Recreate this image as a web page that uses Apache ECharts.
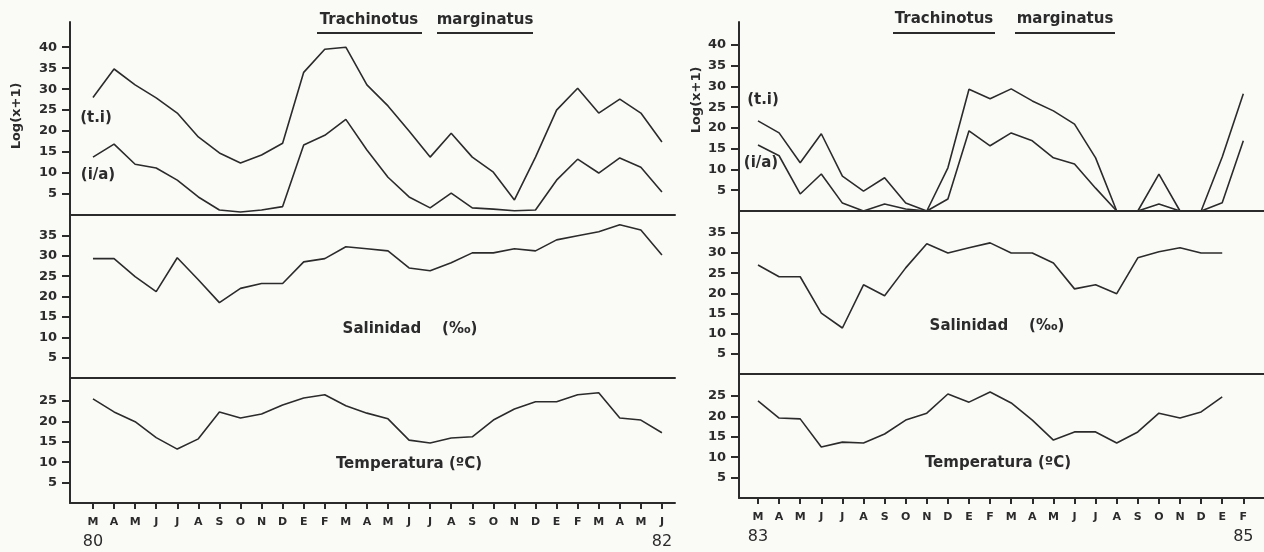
<!DOCTYPE html>
<html>
<head>
<meta charset="utf-8">
<script src="https://cdn.jsdelivr.net/npm/echarts@6/dist/echarts.min.js"></script>
<style>
html,body{margin:0;padding:0;background:#fafaf7;}
#c{width:1264px;height:552px;}
</style>
</head>
<body>
<div id="c"></div>
<script>
// ---------- DATA ----------
const monthsA = ['M','A','M','J','J','A','S','O','N','D','E','F','M','A','M','J','J','A','S','O','N','D','E','F','M','A','M','J']; // Mar 80 - Jun 82
const yearsA = ['80','82'];
const tiA  = [28,34.8,31,27.9,24.3,18.6,14.8,12.4,14.3,17.1,34,39.5,40,31,26,20,13.8,19.5,13.8,10.2,3.6,13.8,25,30.2,24.3,27.6,24.3,17.4];
const iaA  = [13.8,16.9,12.1,11.2,8.3,4.3,1.2,0.7,1.2,2,16.7,19,22.8,15.5,9,4.3,1.7,5.2,1.7,1.4,1,1.2,8.3,13.3,10,13.6,11.4,5.5];
const salA = [29.3,29.3,24.9,21.2,29.5,24.1,18.5,22,23.2,23.2,28.5,29.3,32.2,31.7,31.2,27,26.3,28.3,30.7,30.7,31.7,31.2,33.9,34.9,35.9,37.6,36.3,30.2];
const temA = [25.5,22.3,19.9,16,13.2,15.7,22.3,20.8,21.8,24,25.7,26.5,23.8,22,20.6,15.4,14.7,15.9,16.2,20.3,23,24.8,24.8,26.5,27,20.8,20.3,17.2];

const monthsB = ['M','A','M','J','J','A','S','O','N','D','E','F','M','A','M','J','J','A','S','O','N','D','E','F']; // Mar 83 - Feb 85
const yearsB = ['83','85'];
const tiB  = [21.7,18.8,11.6,18.6,8.4,4.8,8,1.9,0,10.4,29.3,27,29.4,26.5,24.1,20.9,12.8,0,0,8.9,0,0,13,28.2];
const iaB  = [15.9,13.3,4.1,8.9,1.9,0,1.7,0.5,0,2.9,19.3,15.7,18.8,16.9,12.8,11.3,5.5,0,0,1.7,0,0,2,16.9];
const salB = [27,24.1,24.1,15.1,11.4,22.1,19.4,26.3,32.3,30,31.3,32.5,30,30,27.5,21.1,22.1,19.9,28.8,30.3,31.3,30,30,null];
const temB = [23.8,19.6,19.4,12.5,13.7,13.5,15.7,19.1,20.8,25.5,23.5,26,23.3,19.1,14.2,16.2,16.2,13.5,16.2,20.8,19.6,21.1,24.8,null];

const ticksLog = [5,10,15,20,25,30,35,40];
const ticksSal = [5,10,15,20,25,30,35];
const ticksTem = [5,10,15,20,25];

const title1 = 'Trachinotus', title2 = 'marginatus';
const yName = 'Log(x+1)';
const salName = 'Salinidad    (‰)';
const temName = 'Temperatura (ºC)';

// ---------- CHART ----------
const ink = '#2b2b2b';
const FONT = 'DejaVu Sans';
const toPairs = arr => arr.map((v, i) => [i, v]);
const idx = n => Array.from({length: n}, (_, i) => i);

const panels = [
  {left: 70, right: 589, xmin: -1.09, xmax: 27.62, months: monthsA, years: yearsA,
   tops: [22, 215, 378], bots: [215, 378, 503], ymax: [46, 40, 30.6],
   series: [[tiA, iaA], [salA], [temA]]},
  {left: 739, right: 0, xmin: -0.9, xmax: 23.98, months: monthsB, years: yearsB,
   tops: [22, 211, 374], bots: [211, 374, 498], ymax: [45.5, 40.4, 30.4],
   series: [[tiB, iaB], [salB], [temB]]}
];
const yTicks = [ticksLog, ticksSal, ticksTem];

const grid = [], xAxis = [], yAxis = [], series = [];
panels.forEach((p, pi) => {
  for (let r = 0; r < 3; r++) {
    const gi = grid.length;
    grid.push({left: p.left, right: p.right, top: p.tops[r], height: p.bots[r] - p.tops[r],
               containLabel: false, outerBoundsMode: 'none'});
    const isBottom = r === 2;
    const n = p.months.length;
    xAxis.push({
      type: 'value', gridIndex: gi, min: p.xmin, max: p.xmax, position: 'bottom',
      axisLine: {show: true, onZero: false, lineStyle: {color: ink, width: 2}},
      axisTick: {show: isBottom, inside: false, customValues: idx(n), length: 6, lineStyle: {color: ink, width: 2}},
      axisLabel: {
        show: isBottom, customValues: idx(n), margin: 10,
        formatter: v => {
          const m = p.months[v];
          if (v === 0) return '{m|' + m + '}\n{y|' + p.years[0] + '}';
          if (v === n - 1) return '{m|' + m + '}\n{y|' + p.years[1] + '}';
          return '{m|' + m + '}\n{y| }';
        },
        rich: {
          m: {fontFamily: FONT, fontWeight: 'bold', fontSize: 11, color: ink, lineHeight: 19},
          y: {fontFamily: FONT, fontSize: 16, color: ink, lineHeight: 19}
        }
      },
      splitLine: {show: false}
    });
    yAxis.push({
      type: 'value', gridIndex: gi, min: 0, max: p.ymax[r],
      axisLine: {show: true, onZero: false, lineStyle: {color: ink, width: 2}},
      axisTick: {show: true, customValues: yTicks[r], length: 8, lineStyle: {color: ink, width: 2}},
      axisLabel: {show: true, customValues: yTicks[r], margin: 13, fontFamily: FONT, fontWeight: 'bold', fontSize: 13, color: ink},
      splitLine: {show: false}
    });
    p.series[r].forEach(arr => {
      series.push({
        type: 'line', xAxisIndex: gi, yAxisIndex: gi, data: toPairs(arr),
        symbol: 'none', connectNulls: false, silent: true,
        lineStyle: {color: ink, width: 1.6}
      });
    });
  }
});

const txt = (x, y, s, size, extra) => Object.assign({
  type: 'text', x: x, y: y, silent: true,
  style: {text: s, fill: ink, fontFamily: FONT, fontWeight: 'bold', fontSize: size, align: 'center', verticalAlign: 'middle'}
}, extra || {});
const uline = (x1, x2, y) => ({type: 'line', silent: true, shape: {x1: x1, y1: y, x2: x2, y2: y}, style: {stroke: ink, lineWidth: 2}});

const graphic = [
  txt(369, 20, title1, 15), txt(485, 20, title2, 15), uline(317, 422, 33), uline(437, 533, 33),
  txt(944, 19, title1, 15), txt(1065, 19, title2, 15), uline(893, 995, 33), uline(1015, 1115, 33),
  txt(17, 116, yName, 13, {rotation: Math.PI / 2}),
  txt(697, 100, yName, 13, {rotation: Math.PI / 2}),
  txt(96, 118, '(t.i)', 15), txt(98, 175, '(i/a)', 15),
  txt(763, 100, '(t.i)', 15), txt(761, 163, '(i/a)', 15),
  txt(410, 329, salName, 15), txt(997, 326, salName, 15),
  txt(409, 464, temName, 15), txt(998, 463, temName, 15)
];

const chart = echarts.init(document.getElementById('c'), null, {renderer: 'canvas'});
chart.setOption({
  backgroundColor: '#fafaf7',
  animation: false,
  grid: grid, xAxis: xAxis, yAxis: yAxis, series: series,
  graphic: graphic
});
</script>
</body>
</html>
